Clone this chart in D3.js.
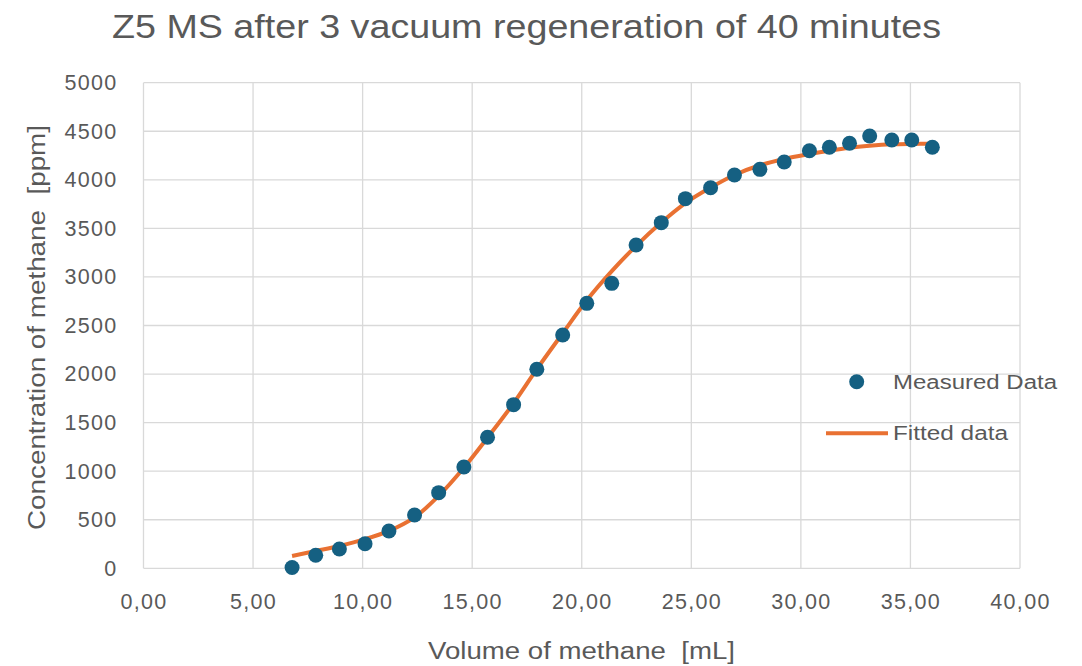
<!DOCTYPE html>
<html>
<head>
<meta charset="utf-8">
<script src="https://cdn.jsdelivr.net/npm/d3@7"></script>
<style>
  body { margin: 0; background: #fff; }
  svg { font-family: "Liberation Sans", Arial, sans-serif; }
</style>
</head>
<body>
<div id="chart"></div>
<script>
// measured points (volume mL, concentration ppm)
var volume = [6.78, 7.86, 8.94, 10.11, 11.20, 12.37, 13.47, 14.62, 15.70, 16.89,
              17.95, 19.13, 20.23, 21.37, 22.48, 23.63, 24.73, 25.88, 26.97, 28.13,
              29.24, 30.39, 31.30, 32.22, 33.14, 34.15, 35.06, 36.00];
var measured = [8, 134, 199, 253, 384, 549, 779, 1043, 1349, 1685,
                2049, 2402, 2728, 2934, 3329, 3559, 3806, 3919, 4050, 4108,
                4183, 4300, 4335, 4376, 4451, 4410, 4410, 4335];
var fitted = [127, 178, 230, 300, 385, 525, 745, 1035, 1345, 1700,
              2050, 2420, 2760, 3060, 3320, 3560, 3760, 3920, 4050, 4150,
              4215, 4265, 4300, 4330, 4350, 4365, 4370, 4372];
var xTicks = [0, 5, 10, 15, 20, 25, 30, 35, 40];
var yTicks = [0, 500, 1000, 1500, 2000, 2500, 3000, 3500, 4000, 4500, 5000];

var fullWidth = 1082, fullHeight = 666;
var margin = {left: 143.5, right: 62, top: 82.7, bottom: 97.7};
var width = fullWidth - margin.left - margin.right;
var height = fullHeight - margin.top - margin.bottom;
var textColor = "#595959";

var svg = d3.select("#chart").append("svg")
    .attr("width", fullWidth).attr("height", fullHeight);

var xScale = d3.scaleLinear().domain([0, 40]).range([0, width]);
var yScale = d3.scaleLinear().domain([0, 5000]).range([height, 0]);

var g = svg.append("g").attr("transform", "translate(" + margin.left + "," + margin.top + ")");

// grid
g.selectAll(".vgrid").data(xTicks).enter().append("line")
    .attr("x1", function(d){ return xScale(d); }).attr("x2", function(d){ return xScale(d); })
    .attr("y1", 0).attr("y2", height)
    .attr("stroke", "#d9d9d9").attr("stroke-width", 1.3);
g.selectAll(".hgrid").data(yTicks).enter().append("line")
    .attr("x1", 0).attr("x2", width)
    .attr("y1", function(d){ return yScale(d); }).attr("y2", function(d){ return yScale(d); })
    .attr("stroke", "#d9d9d9").attr("stroke-width", 1.3);

// axes (labels only)
var xAxis = d3.axisBottom(xScale).tickValues(xTicks).tickSize(0).tickPadding(25)
    .tickFormat(function(d){ return d.toFixed(2).replace(".", ","); });
var yAxis = d3.axisLeft(yScale).tickValues(yTicks).tickSize(0).tickPadding(26)
    .tickFormat(d3.format("d"));

var gx = g.append("g").attr("transform", "translate(0," + height + ")").call(xAxis);
var gy = g.append("g").call(yAxis);
[gx, gy].forEach(function(a){
  a.select(".domain").remove();
  a.selectAll("text").attr("fill", textColor).style("font-size", "21.5px")
    .style("letter-spacing", "1.3px")
    .style("font-family", "'Liberation Sans', Arial, sans-serif");
});
gx.selectAll("text").attr("dy", "0.71em");

// fitted line
var line = d3.line()
    .x(function(d, i){ return xScale(volume[i]); })
    .y(function(d){ return yScale(d); })
    .curve(d3.curveCatmullRom);
g.append("path").datum(fitted)
    .attr("d", line).attr("fill", "none")
    .attr("stroke", "#e97132").attr("stroke-width", 4);

// measured points
g.selectAll(".pt").data(measured).enter().append("circle")
    .attr("cx", function(d, i){ return xScale(volume[i]); })
    .attr("cy", function(d){ return yScale(d); })
    .attr("r", 7.5).attr("fill", "#156082");

// title
svg.append("text").attr("x", 112).attr("y", 38)
    .attr("textLength", 829).attr("lengthAdjust", "spacingAndGlyphs")
    .attr("fill", textColor).style("font-size", "34px")
    .text("Z5 MS after 3 vacuum regeneration of 40 minutes");

// axis titles
svg.append("text").attr("x", 428).attr("y", 659)
    .attr("textLength", 307).attr("lengthAdjust", "spacingAndGlyphs")
    .attr("fill", textColor).style("font-size", "23px").style("white-space", "pre")
    .text("Volume of methane  [mL]");
svg.append("text").attr("transform", "translate(45,530) rotate(-90)")
    .attr("textLength", 405).attr("lengthAdjust", "spacingAndGlyphs")
    .attr("fill", textColor).style("font-size", "23px").style("white-space", "pre")
    .text("Concentration of methane  [ppm]");

// legend
svg.append("circle").attr("cx", 856.7).attr("cy", 381.7).attr("r", 7.5).attr("fill", "#156082");
svg.append("text").attr("x", 893).attr("y", 388.5)
    .attr("textLength", 164).attr("lengthAdjust", "spacingAndGlyphs")
    .attr("fill", textColor).style("font-size", "20px")
    .text("Measured Data");
svg.append("line").attr("x1", 826).attr("x2", 888).attr("y1", 433.3).attr("y2", 433.3)
    .attr("stroke", "#e97132").attr("stroke-width", 4);
svg.append("text").attr("x", 893).attr("y", 440)
    .attr("textLength", 115).attr("lengthAdjust", "spacingAndGlyphs")
    .attr("fill", textColor).style("font-size", "20px")
    .text("Fitted data");
</script>
</body>
</html>
